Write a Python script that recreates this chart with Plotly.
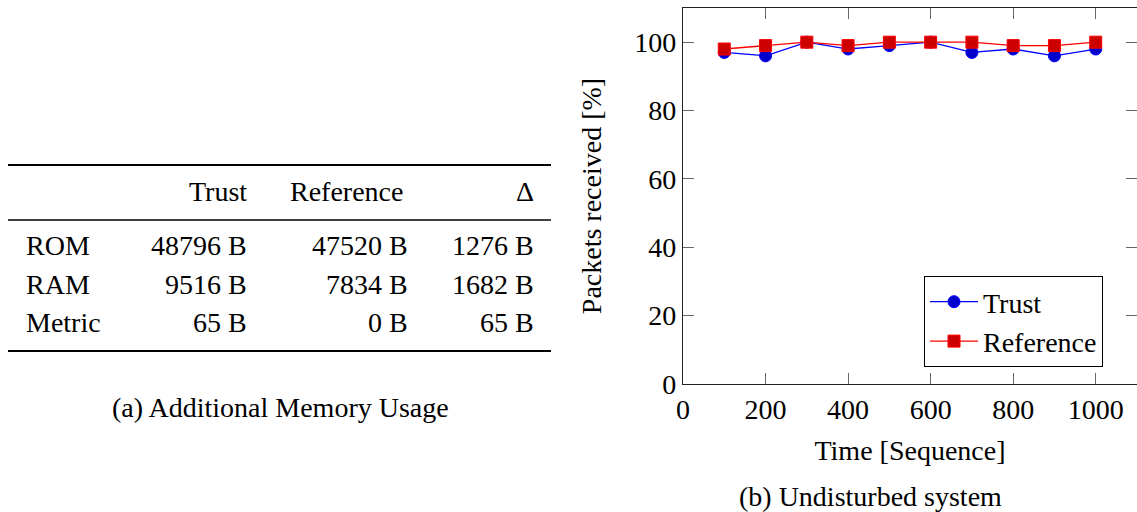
import plotly.graph_objects as go

# Packet delivery over time (undisturbed system)
time_seq = [100, 200, 300, 400, 500, 600, 700, 800, 900, 1000]
trust_pct = [97, 96, 100, 98, 99, 100, 97, 98, 96, 98]
reference_pct = [98, 99, 100, 99, 100, 100, 100, 99, 99, 100]

x_ticks = [0, 200, 400, 600, 800, 1000]
y_ticks = [0, 20, 40, 60, 80, 100]

# Additional memory usage table
table_header = ["Trust", "Reference", "\u0394"]
table_rows = ["ROM", "RAM", "Metric"]
table_trust = ["48796 B", "9516 B", "65 B"]
table_reference = ["47520 B", "7834 B", "0 B"]
table_delta = ["1276 B", "1682 B", "65 B"]

W, H = 1137, 512
FONT = "'Liberation Serif', 'Times New Roman', Times, serif"
FS = 28


def px(x):
    return x / W


def py(y):
    return 1 - y / H


fig = go.Figure()

fig.add_trace(go.Scatter(
    x=time_seq, y=trust_pct, name="Trust", mode="lines+markers",
    line=dict(color="rgb(0,0,255)", width=1.3),
    marker=dict(symbol="circle", size=12, color="rgb(0,0,204)",
                line=dict(color="rgb(0,0,255)", width=1)),
))
fig.add_trace(go.Scatter(
    x=time_seq, y=reference_pct, name="Reference", mode="lines+markers",
    line=dict(color="rgb(255,0,0)", width=1.3),
    marker=dict(symbol="square", size=12, color="rgb(204,0,0)",
                line=dict(color="rgb(255,0,0)", width=1)),
))

axis_common = dict(
    showgrid=False, zeroline=False, showline=True, linecolor="#222",
    linewidth=1.3, mirror="allticks", ticks="inside", ticklen=11,
    tickcolor="#666", tickwidth=1, automargin=False,
    tickfont=dict(family=FONT, size=FS, color="black"),
)

fig.update_layout(
    width=W, height=H,
    margin=dict(l=0, r=0, t=0, b=0, autoexpand=False),
    paper_bgcolor="white", plot_bgcolor="white",
    font=dict(family=FONT, size=FS, color="black"),
    xaxis=dict(
        domain=[px(683), px(1137)], range=[0, 1100],
        tickvals=x_ticks, ticktext=[str(v) for v in x_ticks],
        title=dict(text="Time [Sequence]", standoff=16,
                   font=dict(family=FONT, size=FS)),
        **axis_common,
    ),
    yaxis=dict(
        domain=[py(384), py(8)], range=[0, 110],
        tickvals=y_ticks, ticktext=[str(v) for v in y_ticks],
        title=dict(text="Packets received [%]", standoff=24,
                   font=dict(family=FONT, size=FS)),
        **axis_common,
    ),
    legend=dict(
        x=px(924), y=py(276), xanchor="left", yanchor="top",
        bgcolor="white", bordercolor="black", borderwidth=1,
        font=dict(family=FONT, size=FS), tracegroupgap=0,
        itemwidth=48,
    ),
    showlegend=True,
)

# Table rules
rules = [(165, 2.0), (220, 1.3), (351, 2.0)]
for y, w in rules:
    fig.add_shape(type="line", xref="paper", yref="paper",
                  x0=px(8), x1=px(551), y0=py(y), y1=py(y),
                  line=dict(color="black", width=w))


def cell(text, x, y, anchor):
    fig.add_annotation(text=text, xref="paper", yref="paper",
                       x=px(x), y=py(y), xanchor=anchor, yanchor="middle",
                       showarrow=False,
                       font=dict(family=FONT, size=FS, color="black"))


header_y = 191
cell(table_header[0], 249, header_y, "right")
cell(table_header[1], 346, header_y, "center")
cell(table_header[2], 536, header_y, "right")

row_y = [245, 284, 322]
for i, y in enumerate(row_y):
    cell(table_rows[i], 24, y, "left")
    cell(table_trust[i], 249, y, "right")
    cell(table_reference[i], 410, y, "right")
    cell(table_delta[i], 536, y, "right")

# Sub-captions
cell("(a) Additional Memory Usage", 280, 407, "center")
cell("(b) Undisturbed system", 870, 496, "center")

fig.write_html("out.html")
